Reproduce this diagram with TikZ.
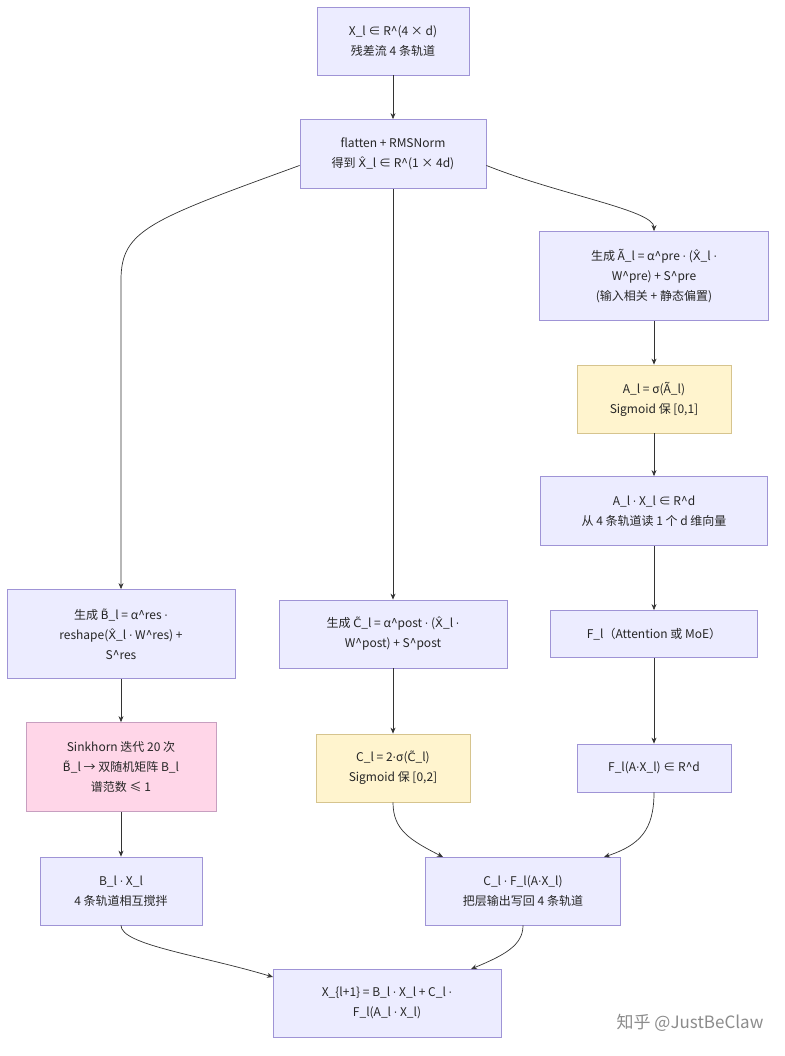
\documentclass[tikz,border=0pt]{standalone}
\usepackage{fontspec}
\setmainfont{Noto Sans CJK SC}
\newfontfamily\dv{DejaVu Sans}
\newcommand{\dt}{{\dv\fontsize{11}{20}\selectfont ·}}
\newcommand{\Xh}{{\dv\fontsize{11.5}{20}\selectfont X̂}}
\newcommand{\Bt}{{\dv\fontsize{11.5}{20}\selectfont B̃}}
\newcommand{\Ct}{{\dv\fontsize{11.5}{20}\selectfont C̃}}
\usetikzlibrary{arrows.meta}
\definecolor{bfill}{HTML}{ECECFF}
\definecolor{bdraw}{HTML}{9F94D6}
\definecolor{yfill}{HTML}{FFF4CE}
\definecolor{ydraw}{HTML}{D6C48E}
\definecolor{pfill}{HTML}{FFD6E8}
\definecolor{pdraw}{HTML}{C79FC0}
\definecolor{edge}{HTML}{333333}
\begin{document}
\begin{tikzpicture}[x=1pt,y=-1pt,
  box/.style={draw=bdraw,fill=bfill,line width=0.8pt,align=center,font=\fontsize{12}{20}\selectfont,inner sep=0pt,text=black!85},
  ybox/.style={box,draw=ydraw,fill=yfill},
  pbox/.style={box,draw=pdraw,fill=pfill},
  arr/.style={draw=edge,line width=0.7pt,-{Stealth[length=6pt,width=5pt]}}]
\path[use as bounding box,fill=white] (0,0) rectangle (784,1056);
\newcommand{\bx}[6]{\node[#1,minimum width=#4pt,minimum height=#5pt] (#2) at (#3) {#6};}
\bx{box}{x}{393,41}{152}{68}{X\_l ∈ R\^{}(4 × d)\\残差流 4 条轨道}
\bx{box}{fl}{393,154}{186}{69}{flatten + RMSNorm\\得到 \Xh\_l ∈ R\^{}(1 × 4d)}
\bx{box}{ap}{654,276}{229}{89}{生成 Ã\_l = α\^{}pre \dt{} (\Xh\_l \dt\\W\^{}pre) + S\^{}pre\\(输入相关 + 静态偏置)}
\bx{ybox}{as}{654,399}{154}{68}{A\_l = σ(Ã\_l)\\Sigmoid 保 [0,1]}
\bx{box}{ax}{654,511}{227}{69}{A\_l \dt{} X\_l ∈ R\^{}d\\从 4 条轨道读 1 个 d 维向量}
\bx{box}{f}{654,634}{207}{47}{F\_l（Attention 或 MoE）}
\bx{box}{fax}{654,768}{154}{48}{F\_l(A\dt X\_l) ∈ R\^{}d}
\bx{box}{bg}{121,634}{228}{89}{生成 \Bt\_l = α\^{}res \dt\\reshape(\Xh\_l \dt{} W\^{}res) +\\S\^{}res}
\bx{pbox}{sk}{121,767}{190}{89}{Sinkhorn 迭代 20 次\\\Bt\_l → 双随机矩阵 B\_l\\谱范数 ≤ 1}
\bx{box}{bx}{121,891}{162}{68}{B\_l \dt{} X\_l\\4 条轨道相互搅拌}
\bx{box}{cg}{393,634}{228}{68}{生成 \Ct\_l = α\^{}post \dt{} (\Xh\_l \dt\\W\^{}post) + S\^{}post}
\bx{ybox}{cs}{393,768}{154}{68}{C\_l = 2\dt σ(\Ct\_l)\\Sigmoid 保 [0,2]}
\bx{box}{cf}{523,891}{195}{68}{C\_l \dt{} F\_l(A\dt X\_l)\\把层输出写回 4 条轨道}
\bx{box}{out}{387,1003}{228}{68}{X\_\{l+1\} = B\_l \dt{} X\_l + C\_l \dt\\F\_l(A\_l \dt{} X\_l)}
\node[text=black!45,font=\fontsize{17}{20}\selectfont] (wm) at (690,1023) {知乎 @JustBeClaw};
\draw[arr] (x) -- (fl);
\draw[arr] (fl.south) -- (cg.north);
\draw[arr] (fl.187) .. controls (150,220) and (121,230) .. (121,280) -- (bg.north);
\draw[arr] (fl.353) .. controls (560,195) and (654,210) .. (ap.north);
\draw[arr] (ap) -- (as);
\draw[arr] (as) -- (ax);
\draw[arr] (ax) -- (f);
\draw[arr] (f) -- (fax);
\draw[arr] (bg) -- (sk);
\draw[arr] (sk) -- (bx);
\draw[arr] (cg) -- (cs);
\draw[arr] (cs.south) .. controls (393,830) and (410,840) .. (443,857);
\draw[arr] (fax.south) .. controls (654,830) and (640,845) .. (604,857);
\draw[arr] (bx.south) .. controls (121,945) and (200,955) .. (273,977);
\draw[arr] (cf.south) .. controls (523,945) and (505,955) .. (471,969);
\end{tikzpicture}
\end{document}
